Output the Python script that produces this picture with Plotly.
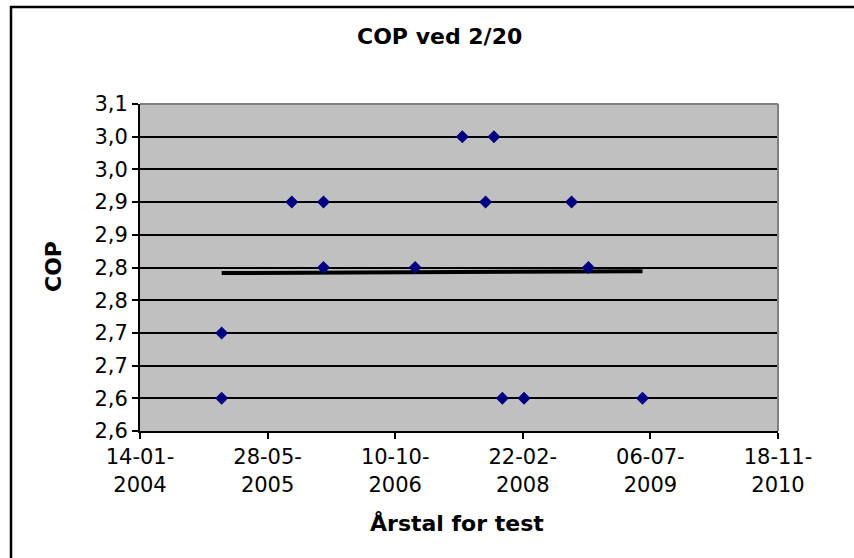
import numpy as np
import pandas as pd
import plotly.graph_objects as go

# ---- data ----
test_dates = ["2004-11-29", "2004-11-29", "2005-08-31", "2006-01-02", "2006-01-02",
              "2006-12-27", "2007-06-30", "2007-09-29", "2007-11-01", "2007-12-04",
              "2008-02-27", "2008-08-31", "2008-11-05", "2009-06-05"]
cop_values = [2.70, 2.60, 2.90, 2.90, 2.80,
              2.80, 3.00, 2.90, 3.00, 2.60,
              2.60, 2.90, 2.80, 2.60]

x_tick_dates = ["2004-01-14", "2005-05-28", "2006-10-10", "2008-02-22", "2009-07-06", "2010-11-18"]
x_tick_labels = ["14-01-<br>2004", "28-05-<br>2005", "10-10-<br>2006",
                 "22-02-<br>2008", "06-07-<br>2009", "18-11-<br>2010"]
y_tick_values = [2.55, 2.60, 2.65, 2.70, 2.75, 2.80, 2.85, 2.90, 2.95, 3.00, 3.05]
y_tick_labels = ["2,6", "2,6", "2,7", "2,7", "2,8", "2,8", "2,9", "2,9", "3,0", "3,0", "3,1"]

title_text = "COP ved 2/20"
x_title = "Årstal for test"
y_title = "COP"

# ---- linear trend (Excel style) ----
d = pd.to_datetime(test_dates)
t = (d - d.min()).days.values.astype(float)
slope, intercept = np.polyfit(t, np.array(cop_values), 1)
trend_x = [d.min(), d.max()]
trend_y = [intercept, intercept + slope * t.max()]

FONT = "DejaVu Sans"
W, H = 854, 558
L, R, T, B = 140, 778, 104, 431


def px(x):
    return (x - L) / (R - L)


def py(y):
    return (B - y) / (B - T)


fig = go.Figure()
fig.add_trace(go.Scatter(x=trend_x, y=trend_y, mode="lines",
                         line=dict(color="black", width=4), showlegend=False))
fig.add_trace(go.Scatter(x=d, y=cop_values, mode="markers",
                         marker=dict(symbol="diamond", size=10, color="#000080",
                                     line=dict(width=0)),
                         showlegend=False, cliponaxis=False))

fig.update_layout(
    width=W, height=H,
    margin=dict(l=L, r=W - R, t=T, b=H - B, pad=0),
    paper_bgcolor="white",
    plot_bgcolor="#C0C0C0",
    font=dict(family=FONT, size=21, color="black"),
    xaxis=dict(type="date", range=["2004-01-14", "2010-11-18"],
               tickvals=x_tick_dates, ticktext=x_tick_labels,
               showgrid=False, zeroline=False,
               showline=True, linecolor="black", linewidth=2,
               ticks="outside", ticklen=6, tickwidth=2, tickcolor="black",
               tickfont=dict(family=FONT, size=21)),
    yaxis=dict(range=[2.55, 3.05], tickvals=y_tick_values, ticktext=y_tick_labels,
               showgrid=True, gridcolor="black", gridwidth=2, zeroline=False,
               showline=True, linecolor="black", linewidth=2,
               ticks="outside", ticklen=6, tickwidth=2, tickcolor="black",
               tickfont=dict(family=FONT, size=21)),
    shapes=[
        dict(type="line", xref="paper", yref="paper", x0=0, x1=1, y0=1, y1=1,
             line=dict(color="#808080", width=2), layer="above"),
        dict(type="line", xref="paper", yref="paper", x0=1, x1=1, y0=0, y1=1,
             line=dict(color="#808080", width=2), layer="above"),
        dict(type="rect", xref="paper", yref="paper",
             x0=px(11), x1=px(868), y0=py(575), y1=py(7),
             line=dict(color="black", width=2.5), layer="above"),
    ],
    annotations=[
        dict(text="<b>" + title_text + "</b>", xref="paper", yref="paper",
             x=px(439), y=py(37), showarrow=False, xanchor="center", yanchor="middle",
             font=dict(family=FONT, size=22)),
        dict(text="<b>" + x_title + "</b>", xref="paper", yref="paper",
             x=px(457), y=py(523), showarrow=False, xanchor="center", yanchor="middle",
             font=dict(family=FONT, size=22)),
        dict(text="<b>" + y_title + "</b>", xref="paper", yref="paper",
             x=px(53), y=py(267), showarrow=False, xanchor="center", yanchor="middle",
             textangle=-90, font=dict(family=FONT, size=22)),
    ],
)

fig.write_html("out.html", config={"displayModeBar": False},
               post_script="document.body.style.margin='0px';document.body.style.overflow='hidden';")
